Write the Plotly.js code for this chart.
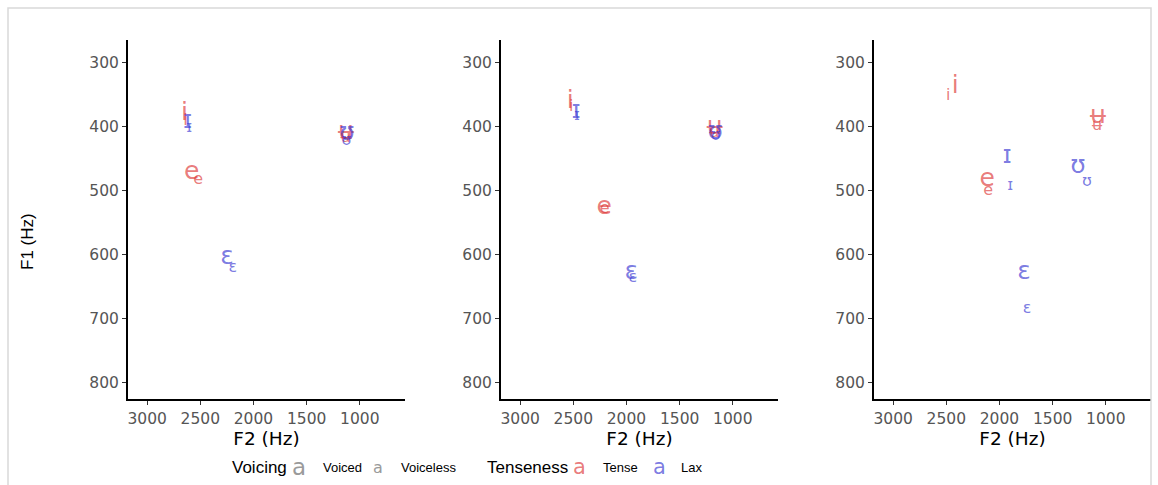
<!DOCTYPE html>
<html>
<head>
<meta charset="utf-8">
<script src="https://cdn.plot.ly/plotly-3.0.1.min.js"></script>
<style>html,body{margin:0;padding:0;background:#fff;}#chart{width:1158px;height:485px;}</style>
</head>
<body>
<div id="chart"></div>
<script>
// ---- data ----
const vowels = ['i', 'ɪ', 'e', 'ɛ', 'ʉ', 'ʊ'];
const tenseness = ['Tense', 'Lax', 'Tense', 'Lax', 'Tense', 'Lax'];

// Panel 1
const p1VoicedF2 = [2650, 2620, 2580, 2248, 1130, 1120];
const p1VoicedF1 = [380, 392, 472, 605, 410, 412];
const p1VoicelessF2 = [2640, 2605, 2520, 2195, 1135, 1125];
const p1VoicelessF1 = [392, 403, 483, 620, 418, 423];

// Panel 2
const p2VoicedF2 = [2530, 2474, 2210, 1956, 1170, 1165];
const p2VoicedF1 = [361, 377, 527, 628, 402, 410];
const p2VoicelessF2 = [2520, 2465, 2205, 1940, 1175, 1160];
const p2VoicelessF1 = [370, 383, 528, 637, 410, 415];

// Panel 3
const p3VoicedF2 = [2417, 1928, 2116, 1769, 1073, 1261];
const p3VoicedF1 = [338, 447, 483, 628, 385, 463];
const p3VoicelessF2 = [2483, 1900, 2107, 1740, 1083, 1177];
const p3VoicelessF1 = [352, 493, 501, 685, 399, 486];

const xTicks = [3000, 2500, 2000, 1500, 1000];
const yTicks = [300, 400, 500, 600, 700, 800];

const voicingLevels = ['Voiced', 'Voiceless'];
const tensenessLevels = ['Tense', 'Lax'];

// ---- styling ----
const W = 1158, H = 485;
const colorMap = {Tense: 'rgba(220,50,50,0.65)', Lax: 'rgba(50,50,210,0.65)'};
const sizeMap = {Voiced: 25, Voiceless: 16};
const glyphFont = 'DejaVu Sans, Liberation Sans, sans-serif';
const labelFont = 'Liberation Sans, Arial, sans-serif';
const tickFont = 'DejaVu Sans, Liberation Sans, sans-serif';

const px = x => x / W;
const py = y => 1 - y / H;

const panelLefts = [128, 501, 874];
const panelWidth = 277;
const yTop = 40, yBottom = 399;

const panels = [
  [p1VoicedF2, p1VoicedF1, p1VoicelessF2, p1VoicelessF1],
  [p2VoicedF2, p2VoicedF1, p2VoicelessF2, p2VoicelessF1],
  [p3VoicedF2, p3VoicedF1, p3VoicelessF2, p3VoicelessF1]
];

const traces = [];
panels.forEach((p, i) => {
  const suffix = i === 0 ? '' : String(i + 1);
  [['Voiced', p[0], p[1]], ['Voiceless', p[2], p[3]]].forEach(([voicing, xs, ys]) => {
    traces.push({
      type: 'scatter', mode: 'text',
      x: xs, y: ys, text: vowels,
      textposition: 'middle center',
      textfont: {family: glyphFont, size: sizeMap[voicing], color: tenseness.map(t => colorMap[t])},
      xaxis: 'x' + suffix, yaxis: 'y' + suffix,
      showlegend: false, hoverinfo: 'skip'
    });
  });
});

const layout = {
  width: W, height: H,
  margin: {l: 0, r: 0, t: 0, b: 0},
  paper_bgcolor: '#fff', plot_bgcolor: '#fff',
  showlegend: false,
  shapes: [{
    type: 'rect', xref: 'paper', yref: 'paper',
    x0: px(8), x1: px(1151), y0: py(495), y1: py(8),
    line: {color: '#d9d9d9', width: 1.5}, fillcolor: 'rgba(0,0,0,0)'
  }],
  annotations: []
};

panelLefts.forEach((L, i) => {
  const suffix = i === 0 ? '' : String(i + 1);
  layout['xaxis' + suffix] = {
    domain: [px(L), px(L + panelWidth)],
    anchor: 'y' + suffix,
    range: [3180, 575],
    tickvals: xTicks, ticktext: xTicks.map(String),
    ticks: 'outside', ticklen: 4, tickwidth: 1, tickcolor: '#333',
    tickfont: {family: tickFont, size: 15.5, color: '#555555'},
    showline: true, linecolor: '#000', linewidth: 2,
    showgrid: false, zeroline: false,
    title: {text: 'F2 (Hz)', font: {family: tickFont, size: 18.5, color: '#000'}, standoff: 0}
  };
  layout['yaxis' + suffix] = {
    domain: [py(yBottom), py(yTop)],
    anchor: 'x' + suffix,
    range: [825, 265],
    tickvals: yTicks, ticktext: yTicks.map(String),
    ticks: 'outside', ticklen: 4, tickwidth: 1, tickcolor: '#333',
    tickfont: {family: tickFont, size: 15.5, color: '#555555'},
    showline: true, linecolor: '#000', linewidth: 2,
    showgrid: false, zeroline: false
  };
});

// y-axis title
layout.annotations.push({
  xref: 'paper', yref: 'paper', x: px(27), y: py(242),
  text: 'F1 (Hz)', textangle: -90, showarrow: false,
  xanchor: 'center', yanchor: 'middle',
  font: {family: 'Liberation Sans Narrow, Liberation Sans, sans-serif', size: 17, color: '#000'}
});

// legend (built as annotations)
const legY = py(467);
const legendItems = [
  {x: 230, text: 'Voicing', size: 17, color: '#000', family: labelFont},
  {x: 290, text: 'a', size: 23, color: '#9a9a9a', family: glyphFont},
  {x: 321, text: voicingLevels[0], size: 13, color: '#000', family: labelFont},
  {x: 371, text: 'a', size: 16, color: '#9a9a9a', family: glyphFont},
  {x: 399, text: voicingLevels[1], size: 13, color: '#000', family: labelFont},
  {x: 485, text: 'Tenseness', size: 17, color: '#000', family: labelFont},
  {x: 571, text: 'a', size: 21, color: colorMap[tensenessLevels[0]], family: glyphFont},
  {x: 601, text: tensenessLevels[0], size: 13, color: '#000', family: labelFont},
  {x: 651, text: 'a', size: 21, color: colorMap[tensenessLevels[1]], family: glyphFont},
  {x: 679, text: tensenessLevels[1], size: 13, color: '#000', family: labelFont}
];
legendItems.forEach(it => {
  layout.annotations.push({
    xref: 'paper', yref: 'paper', x: px(it.x), y: legY,
    text: it.text, showarrow: false, xanchor: 'left', yanchor: 'middle',
    font: {family: it.family, size: it.size, color: it.color}
  });
});

Plotly.newPlot('chart', traces, layout, {staticPlot: true, displayModeBar: false});
</script>
</body>
</html>
